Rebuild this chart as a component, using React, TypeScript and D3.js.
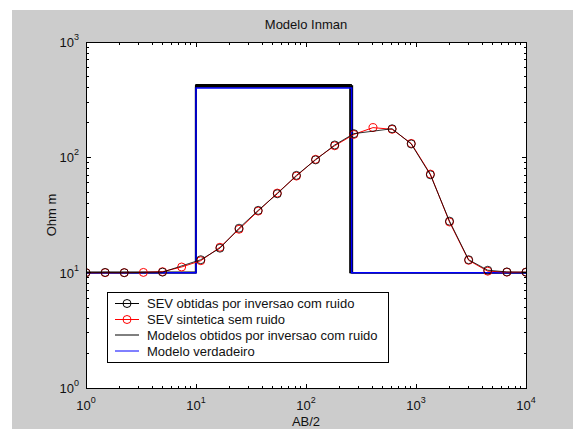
import React from "react";
import * as d3 from "d3";

// AB/2 sample positions (m)
const abHalf = [1, 1.492, 2.227, 3.325, 4.962, 7.406, 11.05, 16.5, 24.62, 36.75, 54.85, 81.86, 122.2, 182.4, 272.2, 406.3, 606.4, 905.1, 1351, 2016, 3009, 4491, 6703, 10000];

// SEV sintetica sem ruido (red)
const sevSynthetic = [10, 10, 10, 10.05, 10.2, 11.2, 12.7, 16.6, 23.8, 34.2, 49, 68.8, 96.1, 126, 158, 181, 175, 132, 71.6, 27.5, 12.8, 10.3, 10.1, 10.1];

// SEV obtidas por inversao com ruido (black) – index into abHalf
const sevInvIdx = [0, 1, 2, 4, 6, 7, 8, 9, 10, 11, 12, 13, 14, 16, 17, 18, 19, 20, 21, 22, 23];
const sevInverted = [10, 10.05, 10, 10.1, 12.95, 16.3, 24.3, 34.7, 48.3, 69.8, 95, 128, 160.5, 177, 130.5, 70.5, 28, 12.95, 10.5, 10.15, 10.1];

// Modelo verdadeiro: resistivities and interface depths
const trueRho = [10, 400, 10];
const trueDepth = [10, 260];

// Modelos obtidos por inversao com ruido
const modelRho = [
  [10, 405, 10],
  [10, 412, 10],
  [10, 420, 10],
  [10, 428, 10],
  [10.1, 416, 10],
];
const modelDepth = [
  [9.9, 255],
  [10, 262],
  [9.95, 250],
  [10, 258],
  [9.9, 265],
];

const xTicks = [1, 10, 100, 1000, 10000];
const yTicks = [1, 10, 100, 1000];

const legendLabels = [
  "SEV obtidas por inversao com ruido",
  "SEV sintetica sem ruido",
  "Modelos obtidos por inversao com ruido",
  "Modelo verdadeiro",
];

const L = 86, R = 526, T = 42, B = 388;
const FONT = "'Liberation Sans', Arial, Helvetica, sans-serif";

export default function App() {
  const x = d3.scaleLog().domain([1, 1e4]).range([L, R]);
  const y = d3.scaleLog().domain([1, 1e3]).range([B, T]);

  const stepLine = d3
    .line<[number, number]>()
    .x((d) => x(d[0]))
    .y((d) => y(d[1]))
    .curve(d3.curveStepAfter);

  const modelPts = (rho: number[], depth: number[]): [number, number][] => [
    [1, rho[0]],
    [depth[0], rho[1]],
    [depth[1], rho[2]],
    [1e4, rho[2]],
  ];

  const sevLine = d3
    .line<[number, number]>()
    .x((d) => x(d[0]))
    .y((d) => y(d[1]));

  const redPts: [number, number][] = abHalf.map((a, i) => [a, sevSynthetic[i]]);
  const blackPts: [number, number][] = sevInvIdx.map((k, i) => [abHalf[k], sevInverted[i]]);

  // minor ticks
  const xMinor: number[] = [];
  for (let d = 0; d < 4; d++) for (let m = 2; m <= 9; m++) xMinor.push(m * Math.pow(10, d));
  const yMinor: number[] = [];
  for (let d = 0; d < 3; d++) for (let m = 2; m <= 9; m++) yMinor.push(m * Math.pow(10, d));

  const major = 4.5, minor = 2.5;
  const exp = (v: number) => Math.round(Math.log10(v));

  const lgX = 107, lgY = 292, lgW = 281, lgH = 70;
  const lgRows = [303.5, 319.5, 335, 351];

  return (
    <svg width={578} height={429} style={{ position: "absolute", left: 0, top: 0 }} fontFamily={FONT}>
      <rect x={0} y={0} width={578} height={429} fill="#ffffff" />
      <rect x={12} y={10} width={561} height={419} fill="#cccccc" />
      <rect x={L} y={T} width={R - L} height={B - T} fill="#ffffff" />
      <defs>
        <clipPath id="plotclip">
          <rect x={L} y={T - 2} width={R - L + 1} height={B - T + 4} />
        </clipPath>
      </defs>

      <g clipPath="url(#plotclip)">
        {modelRho.map((rho, i) => (
          <path key={"m" + i} d={stepLine(modelPts(rho, modelDepth[i])) || ""} fill="none" stroke="#000" strokeWidth={1.2} />
        ))}
        <path d={stepLine(modelPts(trueRho, trueDepth)) || ""} fill="none" stroke="#0000ff" strokeWidth={1.5} />

        <path d={sevLine(redPts) || ""} fill="none" stroke="#ff0000" strokeWidth={1} />
        {redPts.map((p, i) => (
          <circle key={"r" + i} cx={x(p[0])} cy={y(p[1])} r={4} fill="none" stroke="#ff0000" strokeWidth={1} />
        ))}
        <path d={sevLine(blackPts) || ""} fill="none" stroke="#000" strokeWidth={0.8} />
        {blackPts.map((p, i) => (
          <circle key={"b" + i} cx={x(p[0])} cy={y(p[1])} r={4} fill="none" stroke="#000" strokeWidth={0.8} />
        ))}
      </g>

      {/* axes box */}
      <rect x={L} y={T} width={R - L} height={B - T} fill="none" stroke="#000" strokeWidth={1} shapeRendering="crispEdges" />

      {/* ticks */}
      <g stroke="#000" strokeWidth={1} shapeRendering="crispEdges">
        {xTicks.map((t) => (
          <g key={"xt" + t}>
            <line x1={x(t)} x2={x(t)} y1={B} y2={B - major} />
            <line x1={x(t)} x2={x(t)} y1={T} y2={T + major} />
          </g>
        ))}
        {xMinor.map((t) => (
          <g key={"xm" + t}>
            <line x1={x(t)} x2={x(t)} y1={B} y2={B - minor} />
            <line x1={x(t)} x2={x(t)} y1={T} y2={T + minor} />
          </g>
        ))}
        {yTicks.map((t) => (
          <g key={"yt" + t}>
            <line x1={L} x2={L + major} y1={y(t)} y2={y(t)} />
            <line x1={R} x2={R - major} y1={y(t)} y2={y(t)} />
          </g>
        ))}
        {yMinor.map((t) => (
          <g key={"ym" + t}>
            <line x1={L} x2={L + minor} y1={y(t)} y2={y(t)} />
            <line x1={R} x2={R - minor} y1={y(t)} y2={y(t)} />
          </g>
        ))}
      </g>

      {/* tick labels */}
      <g fill="#111" fontSize={13}>
        {xTicks.map((t) => (
          <text key={"xl" + t} x={x(t)} y={B + 22} textAnchor="middle">
            10<tspan dy={-7} fontSize={9}>{exp(t)}</tspan>
          </text>
        ))}
        {yTicks.map((t) => (
          <text key={"yl" + t} x={79} y={y(t) + 5} textAnchor="end">
            10<tspan dy={-7} fontSize={9}>{exp(t)}</tspan>
          </text>
        ))}
      </g>

      {/* titles */}
      <text x={(L + R) / 2} y={29} textAnchor="middle" fontSize={13} fill="#111">Modelo Inman</text>
      <text x={(L + R) / 2} y={426} textAnchor="middle" fontSize={13} fill="#111">AB/2</text>
      <text transform={`translate(56,${(T + B) / 2}) rotate(-90)`} textAnchor="middle" fontSize={13} fill="#111">Ohm m</text>

      {/* legend */}
      <rect x={lgX} y={lgY} width={lgW} height={lgH} fill="#fff" stroke="#000" strokeWidth={1} shapeRendering="crispEdges" />
      <line x1={115} x2={139} y1={lgRows[0]} y2={lgRows[0]} stroke="#000" />
      <circle cx={127} cy={lgRows[0]} r={4} fill="none" stroke="#000" />
      <line x1={115} x2={139} y1={lgRows[1]} y2={lgRows[1]} stroke="#ff0000" />
      <circle cx={127} cy={lgRows[1]} r={4} fill="none" stroke="#ff0000" />
      <line x1={115} x2={139} y1={lgRows[2]} y2={lgRows[2]} stroke="#000" />
      <line x1={115} x2={139} y1={lgRows[3]} y2={lgRows[3]} stroke="#0000ff" />
      {legendLabels.map((s, i) => (
        <text key={s} x={147} y={lgRows[i] + 4.5} fontSize={13} fill="#111">{s}</text>
      ))}
    </svg>
  );
}
